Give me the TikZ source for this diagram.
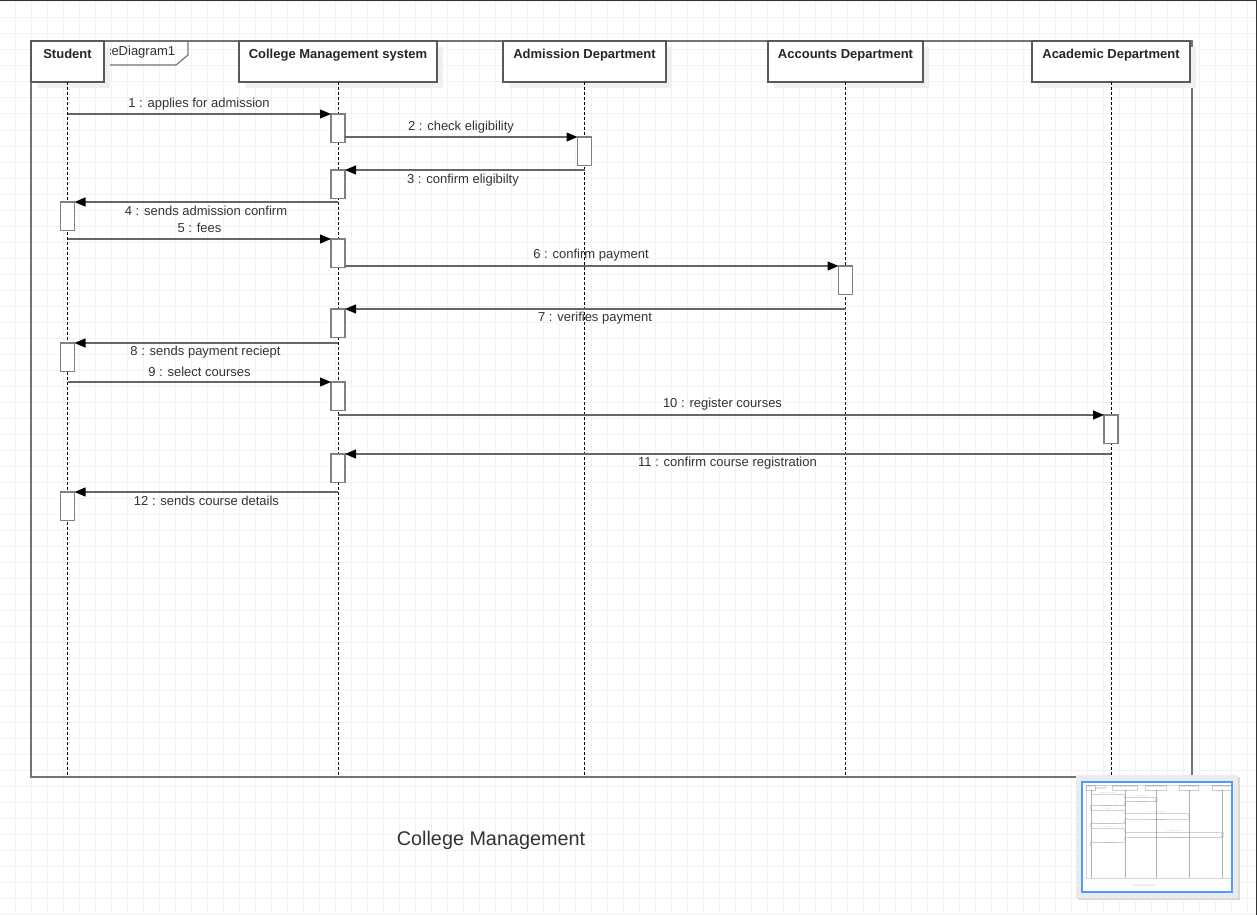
\documentclass[tikz,border=0pt]{standalone}
\usepackage{fontspec}
\setmainfont{Liberation Sans}
\usetikzlibrary{arrows.meta,shadows}

% the whole sequence diagram, drawn once on the page and once in the overview
\newcommand\seqbody{%
  % Frame
  \draw[frame] (31,41) rectangle (1192,777);
  \draw[frame,line width=1.2pt] (104,65) -- (176,65) -- (188,55) -- (188,41);
  \node[lbl,anchor=west] (fname) at (104.8,52) {ceDiagram1};

  % Lifeline heads
  \node[head,minimum width=73pt] (stu) at (67.5,41) {Student};
  \node[head,minimum width=198pt] (cms) at (338,41) {College Management system};
  \node[head,minimum width=163pt] (adm) at (584.5,41) {Admission Department};
  \node[head,minimum width=155pt] (acc) at (845.5,41) {Accounts Department};
  \node[head,minimum width=158pt] (aca) at (1111,41) {Academic Department};

  % Lifelines
  \coordinate (bot) at (0,777);
  \draw[life] (stu.south) -- (stu.south |- bot);
  \draw[life] (cms.south) -- (cms.south |- bot);
  \draw[life] (adm.south) -- (adm.south |- bot);
  \draw[life] (acc.south) -- (acc.south |- bot);
  \draw[life] (aca.south) -- (aca.south |- bot);

  % Activations
  \node[act] (a1) at (338,114) {};
  \node[act] (d1) at (584.5,137) {};
  \node[act] (a3) at (338,170) {};
  \node[act] (s1) at (67.5,202) {};
  \node[act] (a4) at (338,239) {};
  \node[act] (c1) at (845.5,266) {};
  \node[act] (a5) at (338,309) {};
  \node[act] (s2) at (67.5,343) {};
  \node[act] (a6) at (338,382) {};
  \node[act] (k1) at (1111,415) {};
  \node[act] (a7) at (338,454) {};
  \node[act] (s3) at (67.5,492) {};

  % Messages
  \draw[msg] (stu |- a1.north) -- (a1.north west);
  \draw[msg] (a1.east |- d1.north) -- (d1.north west);
  \draw[msg] (adm |- a3.north) -- (a3.north east);
  \draw[msg] (cms |- s1.north) -- (s1.north east);
  \draw[msg] (stu |- a4.north) -- (a4.north west);
  \draw[msg] (a4.east |- c1.north) -- (c1.north west);
  \draw[msg] (acc |- a5.north) -- (a5.north east);
  \draw[msg] (cms |- s2.north) -- (s2.north east);
  \draw[msg] (stu |- a6.north) -- (a6.north west);
  \draw[msg] (cms |- k1.north) -- (k1.north west);
  \draw[msg] (aca |- a7.north) -- (a7.north east);
  \draw[msg] (cms |- s3.north) -- (s3.north east);

  % Labels
  \node[lbl] (t1) at (199,104) {1 : applies for admission};
  \node[lbl] (t2) at (461,127) {2 : check eligibility};
  \node[lbl] (t3) at (463,180) {3 : confirm eligibilty};
  \node[lbl] (t4) at (206,211) {4 : sends admission confirm};
  \node[lbl] (t5) at (199.5,228) {5 : fees};
  \node[lbl] (t6) at (591,255) {6 : confirm payment};
  \node[lbl] (t7) at (595,318) {7 : verifies payment};
  \node[lbl] (t8) at (205.5,352) {8 : sends payment reciept};
  \node[lbl] (t9) at (199.5,372) {9 : select courses};
  \node[lbl] (t10) at (722.5,404) {10 : register courses};
  \node[lbl] (t11) at (727.5,463) {11 : confirm course registration};
  \node[lbl] (t12) at (206.5,501) {12 : sends course details};

  \node[lbl,font=\fontsize{19.8}{24}\selectfont] (title) at (491,840) {College Management};
}

\begin{document}
\begin{tikzpicture}[x=1pt,y=-1pt,
    gridline/.style={draw=black!5,line width=1pt},
    frame/.style={draw=black!55,line width=1.6pt},
    headshadow/.style={drop shadow={shadow xshift=6pt,shadow yshift=-6pt,fill=black!6,opacity=1}},
    head/.style={draw=black!65,fill=white,line width=1.2pt,anchor=north,
      inner ysep=0pt,outer sep=0pt,text height=17.5pt,text depth=23.5pt,
      font=\bfseries\fontsize{13}{15}\selectfont,text=black!85,headshadow},
    act/.style={draw=black!50,fill=white,line width=1.2pt,anchor=north,
      minimum width=14pt,minimum height=28.5pt,inner sep=0pt,outer sep=0pt},
    life/.style={draw=black,line width=.8pt,dash pattern=on 3pt off 2pt},
    msg/.style={draw=black!60,line width=1.2pt,-{Triangle[length=11pt,width=9pt,color=black]}},
    lbl/.style={font=\fontsize{13}{15}\selectfont,text=black!80,inner sep=0pt}]
  \useasboundingbox (0,0) rectangle (1257,915);
  \fill[white] (0,0) rectangle (1257,915);

  % Grid
  \foreach \x in {15,31,...,1255} \draw[gridline] (\x,0) -- (\x,915);
  \foreach \y in {2,18,...,914} \draw[gridline] (0,\y) -- (1257,\y);

  % Window edges
  \draw[line width=2.5pt,black!80] (0,0) -- (1257,0);
  \draw[line width=1.5pt,black!80] (1256.5,0) -- (1256.5,915);

  \seqbody

  % Overview
  \fill[black!8,drop shadow={shadow xshift=2pt,shadow yshift=-2pt,fill=black!15,opacity=1}] (1076,775) rectangle (1238,898);
  \draw[fill=white,draw=blue!55!cyan!70,line width=1.2pt] (1082,782) rectangle (1232,892);
  \begin{scope}
    \clip (1082.6,782.6) rectangle (1231.4,891.4);
    \begin{scope}[shift={(1082.1,779.8)},scale=0.126,transform shape,opacity=.3,
        headshadow/.style={},
        frame/.append style={line width=.4pt},
        head/.append style={line width=.3pt},
        act/.append style={line width=.3pt},
        life/.append style={line width=.15pt,dash pattern=on .5pt off .4pt},
        msg/.append style={line width=.3pt,-{Triangle[length=1.4pt,width=1.1pt]}}]
      \seqbody
    \end{scope}
  \end{scope}
\end{tikzpicture}
\end{document}
